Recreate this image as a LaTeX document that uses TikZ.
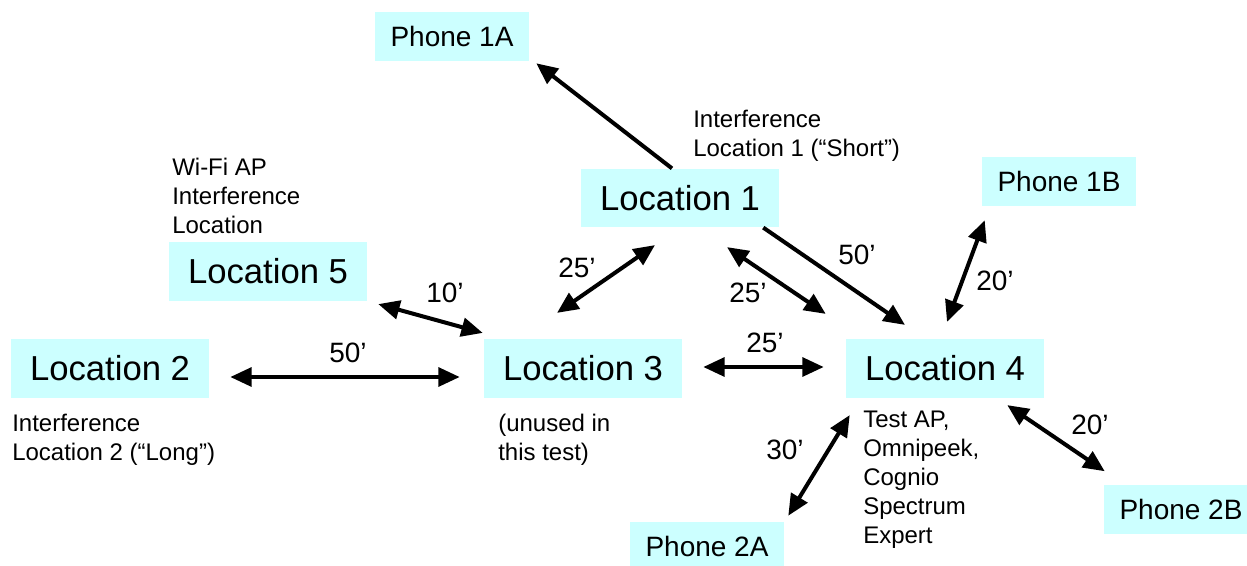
\documentclass[tikz,border=0pt]{standalone}
\usepackage{fontspec}
\setmainfont{Liberation Sans}
\usetikzlibrary{arrows.meta}
\definecolor{boxcyan}{HTML}{CCFFFF}
\tikzset{
    locbox/.style={fill=boxcyan, minimum width=148.5pt, minimum height=44pt, font=\fontsize{26}{31}\selectfont},
    phonebox/.style={fill=boxcyan, minimum width=115.5pt, minimum height=36.75pt, font=\fontsize{21}{25}\selectfont},
    note/.style={anchor=west, align=left, inner sep=0pt, font=\fontsize{18}{21.75}\selectfont},
    dist/.style={inner sep=0pt, font=\fontsize{21}{25}\selectfont},
    oneway/.style={line width=3pt, -{Triangle[length=16pt,width=14pt]}},
    twoway/.style={line width=3pt, {Triangle[length=16pt,width=14pt]}-{Triangle[length=16pt,width=14pt]}},
}
\begin{document}
\begin{tikzpicture}[x=0.75pt, y=-0.75pt]
    \clip (0,0) rectangle (1247,565);
    % test locations
    \node[locbox] (l1) at (680,198) {Location 1};
    \node[locbox] (l2) at (110,368.5) {Location 2};
    \node[locbox] (l3) at (583,368.5) {Location 3};
    \node[locbox] (l4) at (945,368.5) {Location 4};
    \node[locbox] (l5) at (268,271.5) {Location 5};
    % phones
    \node[phonebox] (p1a) at (452,36.5) {Phone 1A};
    \node[phonebox] (p1b) at (1059,181.5) {Phone 1B};
    \node[phonebox] (p2a) at (707,546.5) {Phone 2A};
    \node[phonebox] (p2b) at (1181,509) {Phone 2B};
    % notes
    \node[note] (n1) at (693,136) {Interference\\Location 1 (“Short”)};
    \node[note] (n2) at (12,440) {Interference\\Location 2 (“Long”)};
    \node[note] (n3) at (498,440) {(unused in\\this test)};
    \node[note] (n4) at (863,480) {Test AP,\\Omnipeek,\\Cognio\\Spectrum\\Expert};
    \node[note] (n5) at (172,196) {Wi-Fi AP\\Interference\\Location};
    % links
    \draw[oneway] ([shift={(-8,0)}]l1.north) -- ([shift={(7,2)}]p1a.south east);
    \draw[oneway] ([shift={(-16,0)}]l1.south east) -- ([shift={(-40,-14)}]l4.north);
    \draw[twoway] ([shift={(-26,-26)}]l3.north) -- ([shift={(-25,17.5)}]l1.south);
    \draw[twoway] ([shift={(47,19.5)}]l1.south) -- ([shift={(-20,-25)}]l4.north west);
    \draw[twoway] ([shift={(11,3)}]l5.south east) -- ([shift={(-1,-6)}]l3.north west);
    \draw[twoway] ([shift={(21,8.5)}]l2.east) -- ([shift={(-24,8.5)}]l3.west);
    \draw[twoway] ([shift={(21,-1.5)}]l3.east) -- ([shift={(-22,-1.5)}]l4.west);
    \draw[twoway] ([shift={(2,-17)}]l4.north) -- ([shift={(3,14)}]p1b.south west);
    \draw[twoway] ([shift={(4,17)}]l4.south west) -- ([shift={(4,-6)}]p2a.north east);
    \draw[twoway] ([shift={(-37,7)}]l4.south east) -- ([shift={(1,-13)}]p2b.north west);
    % distances
    \node[dist] (d1) at (857,255) {50’};
    \node[dist] (d2) at (577,268) {25’};
    \node[dist] (d3) at (748,293) {25’};
    \node[dist] (d4) at (445,293) {10’};
    \node[dist] (d5) at (348,353) {50’};
    \node[dist] (d6) at (765,343) {25’};
    \node[dist] (d7) at (995,281) {20’};
    \node[dist] (d8) at (785,450) {30’};
    \node[dist] (d9) at (1090,425) {20’};
\end{tikzpicture}
\end{document}
